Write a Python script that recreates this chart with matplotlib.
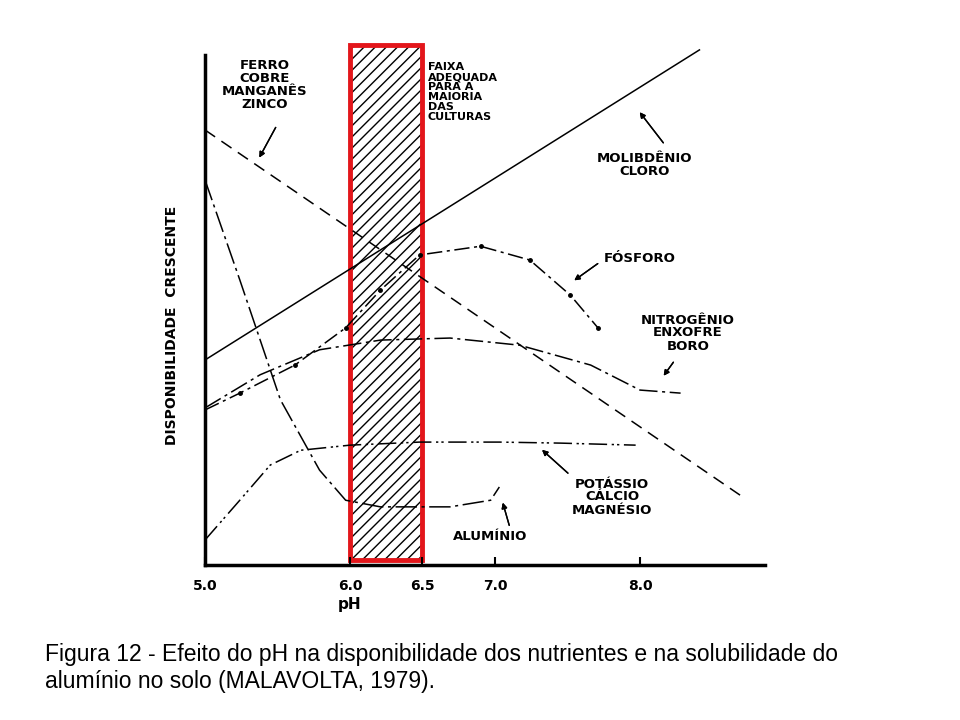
import matplotlib
matplotlib.use("Agg")
import matplotlib.pyplot as plt
from matplotlib.patches import Rectangle

# data (x = pH, y = relative availability 0-100)
mo_ph = [5.0, 8.41]
mo_y = [40.2, 101.0]
fe_ph = [5.0, 8.69]
fe_y = [85.3, 13.7]
p_ph = [5.0, 5.24, 5.62, 5.97, 6.21, 6.48, 6.90, 7.24, 7.52, 7.71]
p_y = [30.4, 33.7, 39.2, 46.5, 53.9, 60.8, 62.5, 59.8, 52.9, 46.5]
n_ph = [5.0, 5.38, 5.79, 6.21, 6.69, 7.17, 7.66, 8.0, 8.28]
n_y = [30.8, 37.3, 42.2, 44.1, 44.5, 43.1, 39.2, 34.3, 33.7]
k_ph = [5.0, 5.24, 5.45, 5.66, 6.0, 6.48, 7.03, 7.45, 7.97]
k_y = [4.9, 12.7, 19.6, 22.5, 23.5, 24.1, 24.1, 23.9, 23.5]
al_ph = [5.0, 5.24, 5.52, 5.79, 5.97, 6.21, 6.69, 6.97, 7.03]
al_y = [75.5, 55.9, 32.4, 18.6, 12.7, 11.4, 11.4, 12.7, 15.3]
ticks = [5.0, 6.0, 6.5, 7.0, 8.0]
faixa = (6.0, 6.5)

W, H = 960, 720
def fp(px, py):
    return (px / W, 1 - py / H)

fig = plt.figure(figsize=(9.6, 7.2), dpi=100)
ax = fig.add_axes([205 / W, 1 - 565 / H, 560 / W, 510 / H])
ax.set_xlim(5.0, 5.0 + 560 / 145)
ax.set_ylim(0, 100)
for s in ["top", "right"]:
    ax.spines[s].set_visible(False)
ax.spines["left"].set_linewidth(2.5)
ax.spines["bottom"].set_linewidth(2.5)
ax.set_yticks([])
ax.set_xticks(ticks)
ax.set_xticklabels(["%.1f" % t for t in ticks], fontsize=10, fontweight="bold")
ax.tick_params(axis="x", direction="in", length=6, width=1.5, pad=10)

lw = 1.1
ax.plot(mo_ph, mo_y, color="black", lw=lw, clip_on=False)
ax.plot(fe_ph, fe_y, color="black", lw=lw, dashes=(8, 5))
ax.plot(p_ph, p_y, color="black", lw=lw, dashes=(10, 3, 2, 3))
ax.plot(p_ph[1:], p_y[1:], "o", color="black", ms=2.5)
ax.plot(n_ph, n_y, color="black", lw=lw, dashes=(12, 3, 2, 3))
ax.plot(k_ph, k_y, color="black", lw=lw, dashes=(12, 3, 1.5, 2, 1.5, 3))
ax.plot(al_ph, al_y, color="black", lw=lw, dashes=(14, 3, 2, 3))

ax.add_patch(Rectangle((faixa[0], 1.0), faixa[1] - faixa[0], 101.0, fill=False,
                       hatch="///", edgecolor="black", lw=0, clip_on=False))
ax.add_patch(Rectangle((faixa[0], 1.0), faixa[1] - faixa[0], 101.0, fill=False,
                       edgecolor="#e3161b", lw=3.5, clip_on=False))

kw = dict(fontsize=9.5, fontweight="bold", ha="center", va="center", linespacing=1.0)
ar = dict(arrowstyle="-|>", color="black", lw=1, mutation_scale=8)
def note(txt, tpos, apos=None, start=None, **extra):
    k = dict(kw); k.update(extra)
    fig.text(*fp(*tpos), txt, **k)
    if apos:
        fig.add_artist(plt.annotate("", xy=fp(*apos), xytext=fp(*start),
                                    xycoords="figure fraction", arrowprops=ar))

note("FERRO\nCOBRE\nMANGANÊS\nZINCO", (265, 85), (258, 160), (277, 125))
note("FAIXA\nADEQUADA\nPARA A\nMAIORIA\nDAS\nCULTURAS", (428, 92), ha="left", fontsize=8)
note("MOLIBDÊNIO\nCLORO", (645, 165), (638, 110), (665, 145))
note("FÓSFORO", (640, 258), (572, 282), (600, 262))
note("NITROGÊNIO\nENXOFRE\nBORO", (688, 333), (662, 378), (675, 360))
note("POTÁSSIO\nCÁLCIO\nMAGNÉSIO", (612, 497), (540, 448), (570, 475))
note("ALUMÍNIO", (490, 537), (502, 500), (510, 528))
note("DISPONIBILIDADE  CRESCENTE", (172, 325), rotation=90, fontsize=10)
note("pH", (350, 605), fontsize=11)

fig.text(45 / W, 1 - 668 / H, "Figura 12 - Efeito do pH na disponibilidade dos nutrientes e na solubilidade do\n"
         "alumínio no solo (MALAVOLTA, 1979).", family="Liberation Sans", fontsize=16.5,
         va="center", ha="left", linespacing=1.25)

fig.savefig("out.png", dpi=100)
